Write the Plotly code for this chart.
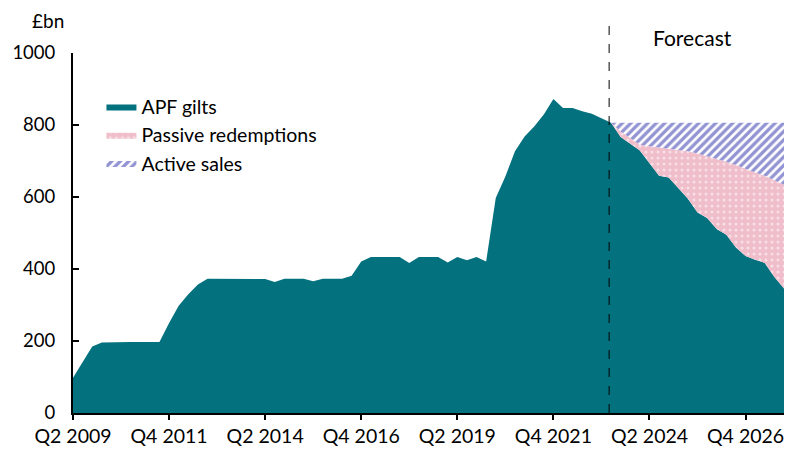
import plotly.graph_objects as go

# Quarter labels Q2 2009 ... Q4 2027
quarters = []
q, y = 2, 2009
for _ in range(75):
    quarters.append(f"Q{q} {y}")
    q += 1
    if q > 4:
        q, y = 1, y + 1

apf_gilts = [98, 143, 185, 196, 197, 197, 197, 197, 197, 197,
             250, 298, 330, 357, 373, 373, 373, 373, 373, 373,
             372, 364, 373, 373, 373, 366, 373, 373, 373, 381,
             421, 433, 433, 433, 433, 417, 433, 433, 433, 418,
             433, 424, 433, 421, 597, 657, 727, 768, 796, 829,
             872, 847, 847, 838, 831, 819, 806, 767, 748, 729,
             694, 659, 654, 625, 595, 557, 542, 511, 495, 460,
             436, 426, 417, 378, 346]

forecast_start = 56  # Q2 2023
passive_redemptions = [0, 15, 16, 16, 47, 79, 81, 106, 132, 164,
                       172, 195, 203, 229, 242, 242, 242, 268, 288]
active_sales = [0, 24, 42, 61, 65, 68, 71, 75, 79, 85,
                92, 100, 108, 117, 128, 138, 147, 160, 172]

tick_idx = [0, 10, 20, 30, 40, 50, 60, 70]
y_ticks = [0, 200, 400, 600, 800, 1000]

x_all = list(range(len(apf_gilts)))
x_fc = list(range(forecast_start, len(apf_gilts)))
apf_fc = apf_gilts[forecast_start:]
passive_top = [a + p for a, p in zip(apf_fc, passive_redemptions)]
active_top = [t + s for t, s in zip(passive_top, active_sales)]

TEAL = "#04717E"
FONT = "Lato"

fig = go.Figure()
fig.add_trace(go.Scatter(x=x_all, y=apf_gilts, name="APF gilts", mode="lines",
                         line=dict(width=0, color=TEAL), fill="tozeroy",
                         fillcolor=TEAL))
fig.add_trace(go.Scatter(x=x_fc, y=apf_fc, mode="lines", showlegend=False,
                         line=dict(width=0, color=TEAL), hoverinfo="skip"))
fig.add_trace(go.Scatter(x=x_fc, y=passive_top, name="Passive redemptions", mode="lines",
                         line=dict(width=0, color="#F2C2CE"), fill="tonexty",
                         fillcolor="#F2C2CE",
                         fillpattern=dict(shape=".", fgcolor="white", bgcolor="#F0BECB",
                                          size=6, solidity=0.2)))
fig.add_trace(go.Scatter(x=x_fc, y=active_top, name="Active sales", mode="lines",
                         line=dict(width=0, color="#2628A6"), fill="tonexty",
                         fillcolor="white",
                         fillpattern=dict(shape="/", fgcolor="#2628A6", bgcolor="white",
                                          size=6, solidity=0.55)))

fig.add_shape(type="line", x0=55.8, x1=55.8, xref="x", yref="paper", y0=0, y1=1.09,
              line=dict(color="black", width=1, dash="dash"))

fig.add_annotation(text="£bn", x=-0.035, y=1.09, xref="paper", yref="paper",
                   xanchor="center", yanchor="middle", showarrow=False,
                   font=dict(family=FONT, size=19, color="black"))
fig.add_annotation(text="Forecast", x=0.871, y=1.042, xref="paper", yref="paper",
                   xanchor="center", yanchor="middle", showarrow=False,
                   font=dict(family=FONT, size=21, color="black"))

fig.update_layout(
    width=785, height=450,
    margin=dict(l=73, r=1, t=53, b=37),
    paper_bgcolor="white", plot_bgcolor="white",
    font=dict(family=FONT, size=18, color="black"),
    showlegend=True,
    legend=dict(x=0.04, y=0.905, xanchor="left", yanchor="top", traceorder="normal",
                bgcolor="rgba(0,0,0,0)", font=dict(family=FONT, size=19.5),
                itemwidth=30, tracegroupgap=0),
    xaxis=dict(range=[0, 74], tickvals=tick_idx, automargin=False,
               ticktext=[quarters[i] for i in tick_idx],
               tickfont=dict(family=FONT, size=19.5),
               showgrid=False, zeroline=False, showline=True, linecolor="black",
               linewidth=2, ticks="outside", ticklen=5, tickwidth=2, tickcolor="black"),
    yaxis=dict(range=[0, 1000], tickvals=y_ticks, showgrid=False, zeroline=False,
               automargin=False,
               showline=True, linecolor="black", linewidth=2, ticks="inside",
               ticklen=6, tickwidth=2, tickcolor="black", ticklabelstandoff=12,
               tickfont=dict(family=FONT, size=18.5)),
)

# remove the default 8px page margin so the figure sits at the window's corner
fig.write_html("out.html", config={"displayModeBar": False},
               post_script="document.body.style.margin='0';document.body.style.overflow='hidden';")
